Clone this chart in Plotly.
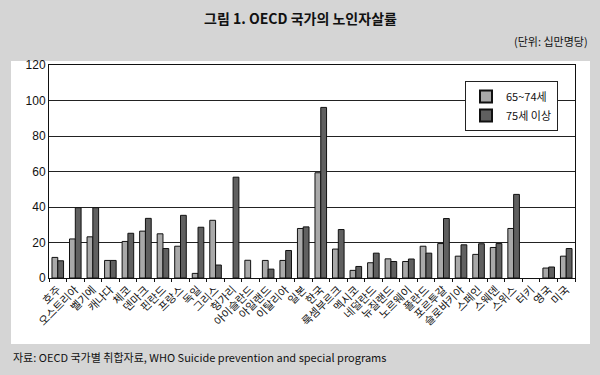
import plotly.graph_objects as go

countries = ["호주", "오스트리아", "벨기에", "캐나다", "체코", "덴마크", "핀란드", "프랑스", "독일", "그리스",
             "헝가리", "아이슬란드", "아일랜드", "이탈리아", "일본", "한국", "룩셈부르크", "멕시코", "네덜란드", "뉴질랜드",
             "노르웨이", "폴란드", "포르투갈", "슬로바키아", "스페인", "스웨덴", "스위스", "터키", "영국", "미국"]
age_65_74 = [11.6, 22.0, 23.2, 9.9, 20.6, 26.4, 24.9, 17.9, 2.6, 32.5,
             None, 10.0, 9.9, 9.9, 27.9, 59.3, 16.3, 4.3, 8.6, 10.8,
             9.3, 17.9, 19.4, 12.3, 13.3, 17.2, 27.9, None, 5.6, 12.3]
age_75_plus = [9.7, 39.6, 39.6, 9.9, 25.2, 33.6, 16.6, 35.3, 28.6, 7.3,
               56.8, None, 5.0, 15.5, 28.8, 96.1, 27.3, 6.5, 14.0, 9.3,
               10.7, 14.0, 33.5, 18.7, 19.3, 19.4, 47.1, None, 6.2, 16.6]
series_names = ["65~74세", "75세 이상"]
y_ticks = [0, 20, 40, 60, 80, 100, 120]

FONT = "Noto Sans CJK KR"
W, H = 600, 375
L, R, T, B = 49, 575, 65, 278

fig = go.Figure()
fig.add_trace(go.Bar(x=countries, y=age_65_74, name=series_names[0],
                     marker=dict(color="#a9a9a9", line=dict(color="#111111", width=1))))
fig.add_trace(go.Bar(x=countries, y=age_75_plus, name=series_names[1],
                     marker=dict(color="#606060", line=dict(color="#111111", width=1))))

fig.update_layout(
    width=W, height=H,
    margin=dict(l=L, r=W - R, t=T, b=H - B, pad=0, autoexpand=False),
    paper_bgcolor="#d5d5d5",
    plot_bgcolor="#e5e5e5",
    barmode="group",
    bargap=0.34,
    bargroupgap=0,
    font=dict(family=FONT, size=11, color="#111111"),
    showlegend=True,
    legend=dict(x=(465 - L) / (R - L), y=(B - 81) / (B - T), xanchor="left", yanchor="top",
                bgcolor="white", bordercolor="#222222", borderwidth=1,
                font=dict(family=FONT, size=11, color="#111111"),
                tracegroupgap=0, itemsizing="constant", itemwidth=30),
    shapes=[dict(type="rect", xref="paper", yref="paper",
                 x0=(11 - L) / (R - L), x1=(590 - L) / (R - L),
                 y0=(B - 344) / (B - T), y1=(B - 61) / (B - T),
                 fillcolor="white", line=dict(width=0), layer="below")],
    annotations=[
        dict(text="<b>그림 1. OECD 국가의 노인자살률</b>", xref="paper", yref="paper",
             x=(300 - L) / (R - L), y=(B - 18) / (B - T), xanchor="center", yanchor="middle",
             showarrow=False, font=dict(family=FONT, size=14, color="#111111")),
        dict(text="(단위: 십만명당)", xref="paper", yref="paper",
             x=(590 - L) / (R - L), y=(B - 41) / (B - T), xanchor="right", yanchor="middle",
             showarrow=False, font=dict(family=FONT, size=11, color="#111111")),
        dict(text="자료: OECD 국가별 취합자료, WHO Suicide prevention and special programs",
             xref="paper", yref="paper",
             x=(11 - L) / (R - L), y=(B - 357) / (B - T), xanchor="left", yanchor="middle",
             showarrow=False, font=dict(family=FONT, size=11, color="#111111")),
    ],
)
fig.update_xaxes(tickangle=-45, showline=True, linecolor="#111111", linewidth=1,
                 mirror=True, ticks="outside", ticklen=3, tickcolor="#111111",
                 tickson="boundaries", showgrid=False, automargin=False,
                 tickfont=dict(family=FONT, size=11, color="#111111"))
fig.update_yaxes(range=[0, 120], tickvals=y_ticks, showline=True, linecolor="#111111",
                 linewidth=1, mirror=True, gridcolor="#222222", gridwidth=1,
                 ticks="", zeroline=False, automargin=False,
                 tickfont=dict(family="Liberation Sans", size=12, color="#111111"))

fig.write_html("out.html",
               config={"displayModeBar": False, "staticPlot": True},
               post_script="document.body.style.margin='0';document.body.style.overflow='hidden';")
